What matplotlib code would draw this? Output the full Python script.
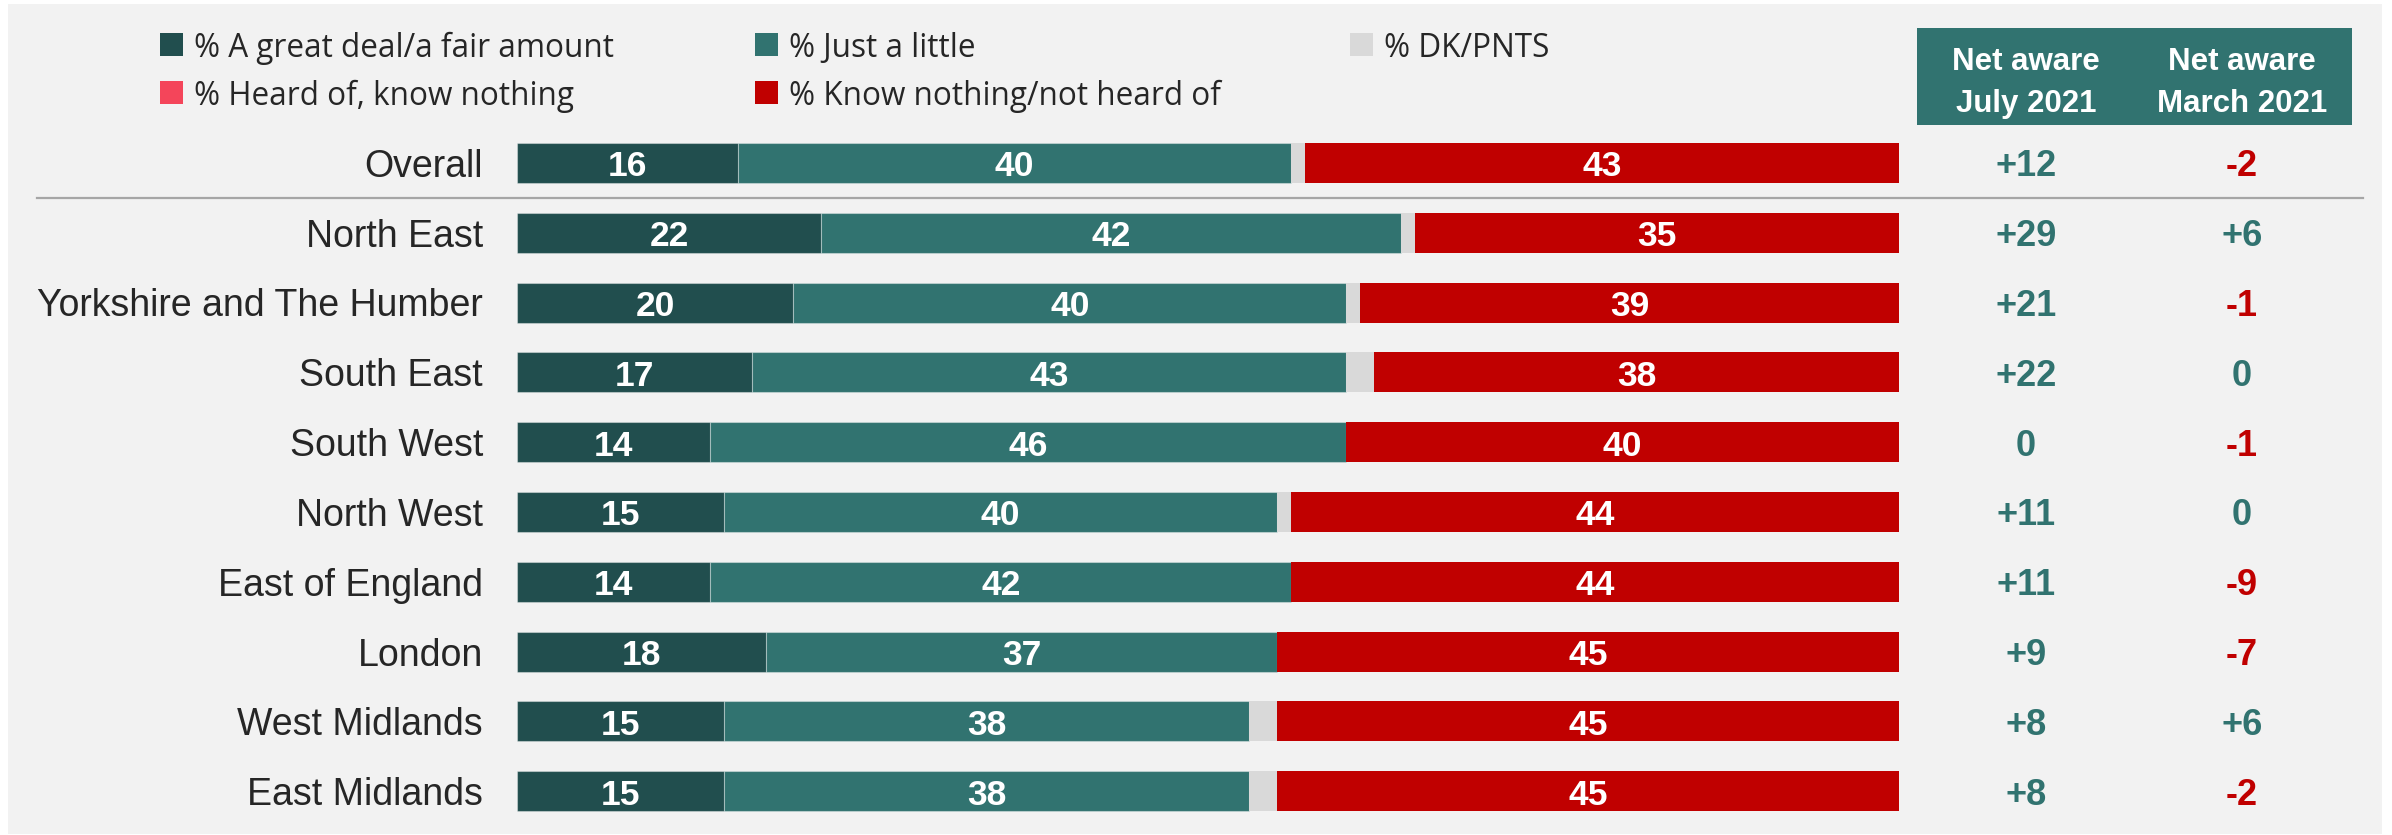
import matplotlib
matplotlib.use("Agg")
import matplotlib.pyplot as plt
from matplotlib.patches import Rectangle
from matplotlib.lines import Line2D
from matplotlib.transforms import blended_transform_factory, ScaledTranslation

# ---------------- data ----------------
regions = ["Overall", "North East", "Yorkshire and The Humber", "South East",
           "South West", "North West", "East of England", "London",
           "West Midlands", "East Midlands"]
great_deal = [16, 22, 20, 17, 14, 15, 14, 18, 15, 15]
just_little = [40, 42, 40, 43, 46, 40, 42, 37, 38, 38]
dk_pnts = [1, 1, 1, 2, 0, 1, 0, 0, 2, 2]
heard_know_nothing = [0, 0, 0, 0, 0, 0, 0, 0, 0, 0]
know_nothing = [43, 35, 39, 38, 40, 44, 44, 45, 45, 45]
net_july = [12, 29, 21, 22, 0, 11, 11, 9, 8, 8]
net_march = [-2, 6, -1, 0, -1, 0, -9, -7, 6, -2]

legend_labels = ["% A great deal/a fair amount", "% Just a little", "% DK/PNTS",
                 "% Heard of, know nothing", "% Know nothing/not heard of"]
header_july = "Net aware\nJuly 2021"
header_march = "Net aware\nMarch 2021"

# ---------------- style ----------------
C_DARK = "#214E4E"
C_TEAL = "#317370"
C_DK = "#D9D9D9"
C_PINK = "#F4455A"
C_RED = "#C00000"
C_BG = "#F2F2F2"
C_TXT = "#262626"

W, H = 2392, 835
fig = plt.figure(figsize=(W / 100, H / 100), dpi=100, facecolor="white")

def fx(px):
    return px / W

def fy(py):
    return 1 - py / H

# background panel
fig.add_artist(Rectangle((fx(8), fy(834)), fx(2382) - fx(8), fy(4) - fy(834),
                         transform=fig.transFigure, facecolor=C_BG,
                         edgecolor="none", zorder=-10))

# bars axes
x0, x1 = 517, 1899
ytop, ybot = 128, 826
ax = fig.add_axes([fx(x0), fy(ybot), fx(x1) - fx(x0), fy(ytop) - fy(ybot)])
ax.set_xlim(0, 100)
ax.set_ylim(len(regions) - 0.5, -0.5)
ax.axis("off")
ax.patch.set_alpha(0)

shift = ScaledTranslation(0, -4 / 100, fig.dpi_scale_trans)
in_tr = ax.transData + shift

bar_h = 40 / 69.8
series = [(great_deal, C_DARK, True), (just_little, C_TEAL, True),
          (dk_pnts, C_DK, False), (heard_know_nothing, C_PINK, False),
          (know_nothing, C_RED, True)]
ypos = list(range(len(regions)))
left = [0] * len(regions)
for vals, col, show in series:
    edge = (1, 1, 1, 0.35) if col in (C_DARK, C_TEAL) else "none"
    ax.barh(ypos, vals, left=left, height=bar_h, color=col,
            edgecolor=edge, linewidth=0.8)
    if show:
        for i, v in enumerate(vals):
            if v > 0:
                ax.text(left[i] + v / 2, i, f"{v}", ha="center", va="center",
                        transform=in_tr,
                        color="white", fontsize=25.5, fontweight="bold",
                        family="Liberation Sans")
    left = [l + v for l, v in zip(left, vals)]

# row labels
lab_tr = blended_transform_factory(fig.transFigure, ax.transData) + shift
for i, r in enumerate(regions):
    ax.text(fx(483), i, r, transform=lab_tr, ha="right", va="center",
            color=C_TXT, fontsize=27, family="Liberation Sans")

# net aware columns
col_july, col_march = 2026, 2242
for i in range(len(regions)):
    for cx, v in ((col_july, net_july[i]), (col_march, net_march[i])):
        s = "0" if v == 0 else f"{v:+d}"
        ax.text(fx(cx), i, s, transform=lab_tr, ha="center", va="center",
                color=C_TEAL if v >= 0 else C_RED, fontsize=26,
                fontweight="bold", family="Liberation Sans")

# header box
fig.add_artist(Rectangle((fx(1917), fy(125)), fx(2352) - fx(1917), fy(28) - fy(125),
                         transform=fig.transFigure, facecolor=C_TEAL,
                         edgecolor="none"))
for cx, t in ((col_july, header_july), (col_march, header_march)):
    fig.text(fx(cx), fy(83), t, ha="center", va="center", color="white",
             fontsize=22.5, fontweight="bold", family="Liberation Sans",
             linespacing=1.48)

# separator line
fig.add_artist(Line2D([fx(37), fx(2363)], [fy(198), fy(198)],
                      transform=fig.transFigure, color="#A6A6A6", lw=1.6))

# legend (manual)
leg_pos = [(160, 57, C_DARK), (755, 57, C_TEAL), (1350, 57, C_DK),
           (160, 105, C_PINK), (755, 105, C_RED)]
for (sx, base, col), lab in zip(leg_pos, legend_labels):
    sq = 23
    fig.add_artist(Rectangle((fx(sx), fy(base - 1)), fx(sq), sq / H,
                             transform=fig.transFigure, facecolor=col,
                             edgecolor="none"))
    fig.text(fx(sx + 34), fy(base), lab, ha="left", va="baseline",
             color=C_TXT, fontsize=22.7, family="Open Sans")

fig.savefig("out.png", dpi=100, facecolor="white")
